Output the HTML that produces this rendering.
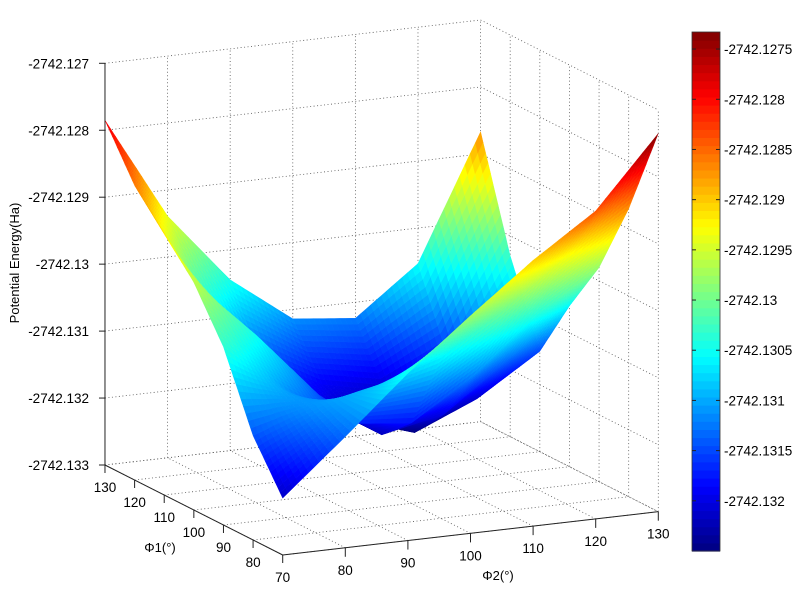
<!DOCTYPE html>
<html><head><meta charset="utf-8">
<style>
html,body{margin:0;padding:0;background:#fff;}
svg{display:block;font-family:"Liberation Sans",Arial,sans-serif;}
</style></head>
<body>
<svg id="chart" width="800" height="599" viewBox="0 0 800 599" xmlns="http://www.w3.org/2000/svg">
  <g id="grid"></g>
  <g id="surface"></g>
  <g id="axes"></g>
  <g id="cbar"></g>
  <text x="0" y="0" font-size="13" text-anchor="middle" transform="translate(19,263) rotate(-90)">Potential Energy(Ha)</text>
  <text x="160" y="552" font-size="13" text-anchor="middle">Φ1(°)</text>
  <text x="498" y="580" font-size="13" text-anchor="middle">Φ2(°)</text>
</svg>
<script>
const phi1 = [70, 80, 90, 100, 110, 120, 130];
const phi2 = [70, 80, 90, 100, 110, 120, 130];
const zTicks = [-2742.133, -2742.132, -2742.131, -2742.13, -2742.129, -2742.128, -2742.127];
const zTickLabels = ["-2742.133", "-2742.132", "-2742.131", "-2742.13", "-2742.129", "-2742.128", "-2742.127"];
const cbarTicks = [-2742.1275, -2742.128, -2742.1285, -2742.129, -2742.1295, -2742.13, -2742.1305, -2742.131, -2742.1315, -2742.132];
const cbarTickLabels = ["-2742.1275", "-2742.128", "-2742.1285", "-2742.129", "-2742.1295", "-2742.13", "-2742.1305", "-2742.131", "-2742.1315", "-2742.132"];
// energy rows: one per phi1 (70..130), columns phi2 (70..130)
const energyPhi1_70  = [-2742.13215, -2742.13134, -2742.13050, -2742.12975, -2742.12903, -2742.12840, -2742.12735];
const energyPhi1_80  = [-2742.13144, -2742.13110, -2742.13090, -2742.13060, -2742.13000, -2742.12930, -2742.12870];
const energyPhi1_90  = [-2742.13034, -2742.13110, -2742.13170, -2742.13180, -2742.13120, -2742.13040, -2742.12980];
const energyPhi1_100 = [-2742.12960, -2742.13050, -2742.13150, -2742.13220, -2742.13200, -2742.13130, -2742.13060];
const energyPhi1_110 = [-2742.12910, -2742.13070, -2742.13170, -2742.13220, -2742.13250, -2742.13210, -2742.13150];
const energyPhi1_120 = [-2742.12860, -2742.13020, -2742.13140, -2742.13190, -2742.13210, -2742.13170, -2742.13030];
const energyPhi1_130 = [-2742.12785, -2742.12939, -2742.13045, -2742.13114, -2742.13124, -2742.13053, -2742.12867];
const energy = [energyPhi1_70, energyPhi1_80, energyPhi1_90, energyPhi1_100, energyPhi1_110, energyPhi1_120, energyPhi1_130];

const NS = "http://www.w3.org/2000/svg";
const ZMIN = -2742.133, ZMAX = -2742.127;
const CMIN = -2742.1325, CMAX = -2742.12733;
const O = [282.7, 555];
const U1 = [-2.962, -1.5];
const U2 = [6.26, -0.722];
const ZPX = 66.95;

function baseXY(a, b) { return [O[0] + (a - 70) * U1[0] + (b - 70) * U2[0], O[1] + (a - 70) * U1[1] + (b - 70) * U2[1]]; }
function zpx(z) { return (z - ZMIN) * 1000 * ZPX; }
function proj(a, b, z) { const p = baseXY(a, b); return [p[0], p[1] - zpx(z)]; }
function jet(t) {
  t = Math.max(0, Math.min(1, t));
  const c = v => Math.round(255 * Math.max(0, Math.min(1, v)));
  return "rgb(" + c(1.5 - Math.abs(4 * t - 3)) + "," + c(1.5 - Math.abs(4 * t - 2)) + "," + c(1.5 - Math.abs(4 * t - 1)) + ")";
}
function colorOf(z) { return jet((z - CMIN) / (CMAX - CMIN)); }
function mk(tag, attrs, parent) {
  const el = document.createElementNS(NS, tag);
  for (const k in attrs) el.setAttribute(k, attrs[k]);
  parent.appendChild(el);
  return el;
}

const grid = document.getElementById("grid");
const dot = { stroke: "#555", "stroke-width": "0.8", "stroke-dasharray": "1,2.5", fill: "none" };
function line(p, q, parent, style, name) {
  const el = mk("line", Object.assign({ x1: p[0], y1: p[1], x2: q[0], y2: q[1] }, style), parent);
  
  
  return el;
}
const a0 = phi1[0], a1 = phi1[phi1.length - 1], b0 = phi2[0], b1 = phi2[phi2.length - 1];
phi2.forEach(b => { if (b !== b0) line(proj(a1, b, ZMIN), proj(a1, b, ZMAX), grid, dot, 'gridline-wall-phi2'); });
phi1.forEach(a => { if (a !== a1) line(proj(a, b1, ZMIN), proj(a, b1, ZMAX), grid, dot, 'gridline-wall-phi1'); });
zTicks.forEach(z => {
  line(proj(a1, b0, z), proj(a1, b1, z), grid, dot, 'gridline-wall-z');
  line(proj(a1, b1, z), proj(a0, b1, z), grid, dot, 'gridline-wall-z');
});
phi1.forEach(a => line(proj(a, b0, ZMIN), proj(a, b1, ZMIN), grid, dot, 'gridline-floor-phi1'));
phi2.forEach(b => line(proj(a0, b, ZMIN), proj(a1, b, ZMIN), grid, dot, 'gridline-floor-phi2'));

const surf = document.getElementById("surface");
const N = 12;
const polys = [];
function zAt(i, j, u, v) {
  const z00 = energy[i][j], z01 = energy[i][j + 1], z10 = energy[i + 1][j], z11 = energy[i + 1][j + 1];
  return z00 * (1 - u) * (1 - v) + z10 * u * (1 - v) + z01 * (1 - u) * v + z11 * u * v;
}
for (let i = 0; i < phi1.length - 1; i++) {
  for (let j = 0; j < phi2.length - 1; j++) {
    for (let s = 0; s < N; s++) {
      for (let t = 0; t < N; t++) {
        const us = [s / N, (s + 1) / N], vs = [t / N, (t + 1) / N];
        const corners = [[us[0], vs[0]], [us[1], vs[0]], [us[1], vs[1]], [us[0], vs[1]]];
        let pts = [], zs = 0, near = 0;
        corners.forEach(c => {
          const a = phi1[i] + c[0] * (phi1[i + 1] - phi1[i]);
          const b = phi2[j] + c[1] * (phi2[j + 1] - phi2[j]);
          const z = zAt(i, j, c[0], c[1]);
          const p = proj(a, b, z);
          pts.push(p[0].toFixed(1) + "," + p[1].toFixed(1));
          zs += z;
          near += baseXY(a, b)[1] + zpx(z) * 0.33;
        });
        polys.push({ pts: pts.join(" "), z: zs / 4, near: near / 4 });
      }
    }
  }
}
polys.sort((p, q) => p.near - q.near);
polys.forEach(p => {
  const c = colorOf(p.z);
  const el = mk("polygon", { points: p.pts, fill: c, stroke: c, "stroke-width": "0.45", "stroke-linejoin": "round" }, surf);
  
  
});

const axes = document.getElementById("axes");
const solid = { stroke: "#222", "stroke-width": "1", fill: "none" };
line(proj(a1, b0, ZMIN), proj(a1, b0, ZMAX), axes, solid, 'z-axis-line');
line(proj(a1, b0, ZMIN), proj(a0, b0, ZMIN), axes, solid, 'phi1-axis-line');
line(proj(a0, b0, ZMIN), proj(a0, b1, ZMIN), axes, solid, 'phi2-axis-line');
zTicks.forEach((z, k) => {
  const p = proj(a1, b0, z);
  line(p, [p[0] - 6, p[1]], axes, solid, 'z-tick');
  const t = mk("text", { x: 89, y: p[1] + 5, "font-size": "13.5", "text-anchor": "end", fill: "#000" }, axes);
  
  
  t.textContent = zTickLabels[k];
});
phi1.forEach(a => {
  const p = proj(a, b0, ZMIN);
  line(p, [p[0], p[1] + 8], axes, solid, 'phi1-tick');
  const t = mk("text", { x: p[0], y: p[1] + 27, "font-size": "13.5", "text-anchor": "middle", fill: "#000" }, axes);
  
  
  t.textContent = String(a);
});
phi2.forEach(b => {
  if (b === b0) return;
  const p = proj(a0, b, ZMIN);
  line(p, [p[0], p[1] + 9], axes, solid, 'phi2-tick');
  const t = mk("text", { x: p[0], y: p[1] + 27, "font-size": "13.5", "text-anchor": "middle", fill: "#000" }, axes);
  
  
  t.textContent = String(b);
});

const cb = document.getElementById("cbar");
const CX0 = 692, CX1 = 720, CY0 = 32, CY1 = 551;
function cy(v) { return CY1 - (v - CMIN) / (CMAX - CMIN) * (CY1 - CY0); }
const levels = 64;
for (let k = 0; k < levels; k++) {
  const h = (CY1 - CY0) / levels;
  const el = mk("rect", { x: CX0, y: (CY1 - (k + 1) * h).toFixed(2), width: CX1 - CX0, height: (h + 0.6).toFixed(2), fill: jet((k + 0.5) / levels) }, cb);
  
  
}
const frame = mk("rect", { x: CX0, y: CY0, width: CX1 - CX0, height: CY1 - CY0, fill: "none", stroke: "#333", "stroke-width": "0.8" }, cb);


cbarTicks.forEach((v, k) => {
  const y = cy(v);
  line([CX0, y], [CX0 + 4, y], cb, solid, 'colorbar-tick');
  line([CX1 - 4, y], [CX1, y], cb, solid, 'colorbar-tick');
  const t = mk("text", { x: 724, y: y + 5, "font-size": "13.5", fill: "#000" }, cb);
  
  
  t.textContent = cbarTickLabels[k];
});
</script>
</body></html>
